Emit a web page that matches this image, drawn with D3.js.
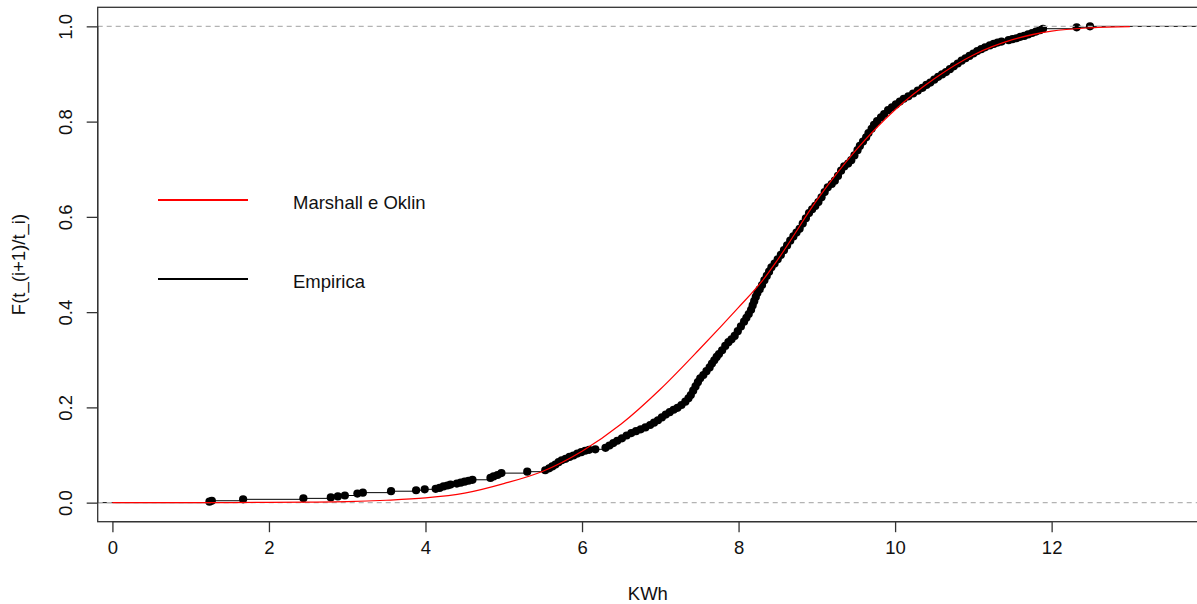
<!DOCTYPE html>
<html lang="en">
<head>
    <meta charset="UTF-8">
    <script src="https://d3js.org/d3.v7.min.js"></script>
    <title>ECDF KWh</title>
    <style>
        body { margin: 0; background: #fff; }
        svg { display: block; font-family: "Liberation Sans", Arial, sans-serif; }
    </style>
</head>
<body>
    <div id="container"></div>
<script>
    // dimensioni
    var width = 1197, height = 604;
    var box = {left: 97.7, top: 7.3, right: 1198, bottom: 521.7};

    // ticks
    var xTicks = [0, 2, 4, 6, 8, 10, 12];
    var yTicks = [0, 0.2, 0.4, 0.6, 0.8, 1.0];
    var xDomain = [-0.188, 13.87];
    var yDomain = [-0.04, 1.04];

    // legenda
    var legendLabels = ["Marshall e Oklin", "Empirica"];
    var legendColors = ["#ff0000", "#000000"];

    // curva teorica Marshall e Oklin
    var marshallX = [0, 1, 1.5, 2, 2.5, 3, 3.5, 4, 4.5, 5, 5.5, 6, 6.5, 7, 7.5, 8, 8.3, 8.5, 9, 9.5, 10, 10.5, 11, 11.5, 12, 12.5, 13];
    var marshallY = [0, 0, 0.0002, 0.0005, 0.001, 0.002, 0.005, 0.01, 0.02, 0.04, 0.066, 0.108, 0.165, 0.238, 0.322, 0.41, 0.465, 0.51, 0.635, 0.74, 0.825, 0.89, 0.94, 0.972, 0.99, 0.997, 0.9995];

    // funzione di ripartizione empirica (nodi)
    var empirica = [
        [1.24,.002],[1.27,.004],[1.67,.007],[2.44,.009],[2.79,.011],[2.88,.013],[2.97,.015],[3.13,.019],[3.20,.021],
        [3.56,.024],[3.88,.026],[3.99,.028],[4.13,.029],[4.18,.031],[4.23,.034],[4.28,.036],[4.32,.038],[4.40,.040],
        [4.45,.042],[4.50,.044],[4.55,.046],[4.60,.048],[4.83,.052],[4.87,.055],[4.92,.058],[4.97,.062],[5.30,.065],
        [5.53,.068],[5.58,.072],[5.62,.076],[5.66,.080],[5.70,.085],[5.74,.089],[5.79,.092],[5.84,.096],[5.89,.099],
        [5.94,.103],[5.99,.106],[6.04,.109],[6.09,.111],[6.17,.112],[6.30,.115],[6.35,.120],[6.40,.125],[6.45,.130],
        [6.51,.135],[6.57,.141],[6.63,.146],[6.69,.150],[6.75,.154],[6.81,.158],[6.87,.163],[6.92,.168],[6.97,.173],
        [7.02,.179],[7.07,.185],[7.12,.190],[7.17,.195],[7.22,.199],[7.27,.205],[7.32,.212],[7.36,.219],[7.39,.226],
        [7.42,.235],[7.45,.244],[7.48,.253],[7.51,.261],[7.55,.268],[7.59,.276],[7.63,.284],[7.66,.292],[7.69,.299],
        [7.72,.306],[7.75,.312],[7.79,.320],[7.83,.329],[7.87,.337],[7.91,.343],[7.95,.350],[7.99,.360],[8.03,.370],
        [8.07,.380],[8.10,.388],[8.13,.396],[8.16,.405],[8.18,.414],[8.20,.423],[8.22,.432],[8.24,.440],[8.27,.448],
        [8.30,.457],[8.33,.467],[8.36,.476],[8.39,.485],[8.42,.494],[8.46,.502],[8.50,.511],[8.54,.520],[8.58,.530],
        [8.62,.540],[8.66,.550],[8.70,.559],[8.74,.567],[8.78,.575],[8.82,.586],[8.86,.597],[8.90,.608],[8.94,.616],
        [8.98,.623],[9.02,.631],[9.06,.641],[9.10,.652],[9.14,.662],[9.19,.669],[9.23,.676],[9.27,.686],[9.31,.697],
        [9.35,.706],[9.40,.712],[9.44,.719],[9.48,.729],[9.52,.740],[9.55,.749],[9.59,.758],[9.63,.767],[9.66,.776],
        [9.70,.785],[9.73,.793],[9.77,.801],[9.82,.809],[9.86,.816],[9.91,.824],[9.96,.830],[10.01,.836],[10.06,.842],
        [10.11,.848],[10.17,.853],[10.23,.859],[10.29,.865],[10.35,.871],[10.40,.877],[10.45,.882],[10.50,.888],
        [10.55,.894],[10.60,.899],[10.65,.904],[10.70,.910],[10.75,.916],[10.80,.922],[10.85,.928],[10.90,.933],
        [10.95,.938],[11.00,.943],[11.05,.948],[11.10,.952],[11.15,.956],[11.21,.960],[11.26,.963],[11.31,.966],
        [11.36,.968],[11.45,.971],[11.50,.973],[11.55,.975],[11.60,.978],[11.65,.980],[11.70,.983],[11.75,.986],
        [11.80,.989],[11.85,.992],[11.89,.995],[12.32,.998],[12.49,1.0]
    ];

    var svg = d3.select("#container").append("svg").attr("width", width).attr("height", height);

    var x = d3.scaleLinear().domain(xDomain).range([box.left, box.right]);
    var y = d3.scaleLinear().domain(yDomain).range([box.bottom, box.top]);

    // gradini della ecdf (prolungati a sinistra e a destra)
    var steps = [[xDomain[0], 0]].concat(empirica).concat([[xDomain[1], 1]]);
    svg.append("path").datum(steps)
        .attr("fill", "none").attr("stroke", "#000").attr("stroke-width", 1)
        .attr("d", d3.line().x(d => x(d[0])).y(d => y(d[1])).curve(d3.curveStepAfter));

    // punti
    svg.append("g").selectAll("circle").data(empirica).enter().append("circle")
        .attr("cx", d => x(d[0])).attr("cy", d => y(d[1])).attr("r", 4.1).attr("fill", "#000");

    // linee orizzontali a 0 e 1
    svg.append("g").selectAll("line").data([0, 1]).enter().append("line")
        .attr("x1", box.left).attr("x2", box.right)
        .attr("y1", d => y(d)).attr("y2", d => y(d))
        .attr("stroke", "#b3b3b3").attr("stroke-width", 1.2).attr("stroke-dasharray", "5,4");

    // curva teorica
    svg.append("path").datum(d3.zip(marshallX, marshallY))
        .attr("fill", "none").attr("stroke", "#ff0000").attr("stroke-width", 1.2)
        .attr("d", d3.line().x(d => x(d[0])).y(d => y(d[1])).curve(d3.curveMonotoneX));

    // cornice
    svg.append("rect")
        .attr("x", box.left).attr("y", box.top)
        .attr("width", box.right - box.left).attr("height", box.bottom - box.top)
        .attr("fill", "none").attr("stroke", "#333").attr("stroke-width", 1.3);

    // asse x
    var xaxis = d3.axisBottom(x).tickValues(xTicks).tickSize(10.5).tickPadding(8).tickFormat(d3.format("d"));
    var gx = svg.append("g").attr("transform", `translate(0,${box.bottom})`).call(xaxis);
    gx.select(".domain").attr("d", `M${x(xTicks[0])},0H${x(xTicks[xTicks.length - 1])}`)
        .attr("stroke", "#333").attr("stroke-width", 1.3);
    gx.selectAll(".tick line").attr("stroke", "#333").attr("stroke-width", 1.3);
    gx.selectAll(".tick text").attr("font-size", 18.5).attr("fill", "#111")
        .attr("font-family", "Liberation Sans, Arial, sans-serif").attr("dy", "0.72em");

    // asse y con etichette ruotate
    var yaxis = d3.axisLeft(y).tickValues(yTicks).tickSize(11).tickFormat(d3.format(".1f"));
    var gy = svg.append("g").attr("transform", `translate(${box.left},0)`).call(yaxis);
    gy.select(".domain").attr("d", `M0,${y(yTicks[0])}V${y(yTicks[yTicks.length - 1])}`)
        .attr("stroke", "#333").attr("stroke-width", 1.3);
    gy.selectAll(".tick line").attr("stroke", "#333").attr("stroke-width", 1.3);
    gy.selectAll(".tick text")
        .attr("font-size", 18.5).attr("fill", "#111")
        .attr("font-family", "Liberation Sans, Arial, sans-serif")
        .attr("x", null).attr("dy", null)
        .attr("text-anchor", "middle")
        .attr("transform", "translate(-26,0) rotate(-90)");

    // titoli assi
    svg.append("text").attr("x", (box.left + box.right) / 2).attr("y", 600)
        .attr("text-anchor", "middle").attr("font-size", 18.5).attr("fill", "#111").text("KWh");
    svg.append("text")
        .attr("transform", `translate(25,${(box.top + box.bottom) / 2}) rotate(-90)`)
        .attr("text-anchor", "middle").attr("font-size", 18.5).attr("fill", "#111").text("F(t_(i+1)/t_i)");

    // legenda
    var legend = svg.append("g").selectAll("g").data(legendLabels).enter().append("g")
        .attr("transform", (d, i) => `translate(0,${200 + i * 79})`);
    legend.append("line").attr("x1", 158).attr("x2", 248).attr("y1", 0).attr("y2", 0)
        .attr("stroke", (d, i) => legendColors[i]).attr("stroke-width", 2);
    legend.append("text").attr("x", 293).attr("y", 8.5)
        .attr("font-size", 18.5).attr("fill", "#111").text(d => d);
</script>
</body>
</html>
